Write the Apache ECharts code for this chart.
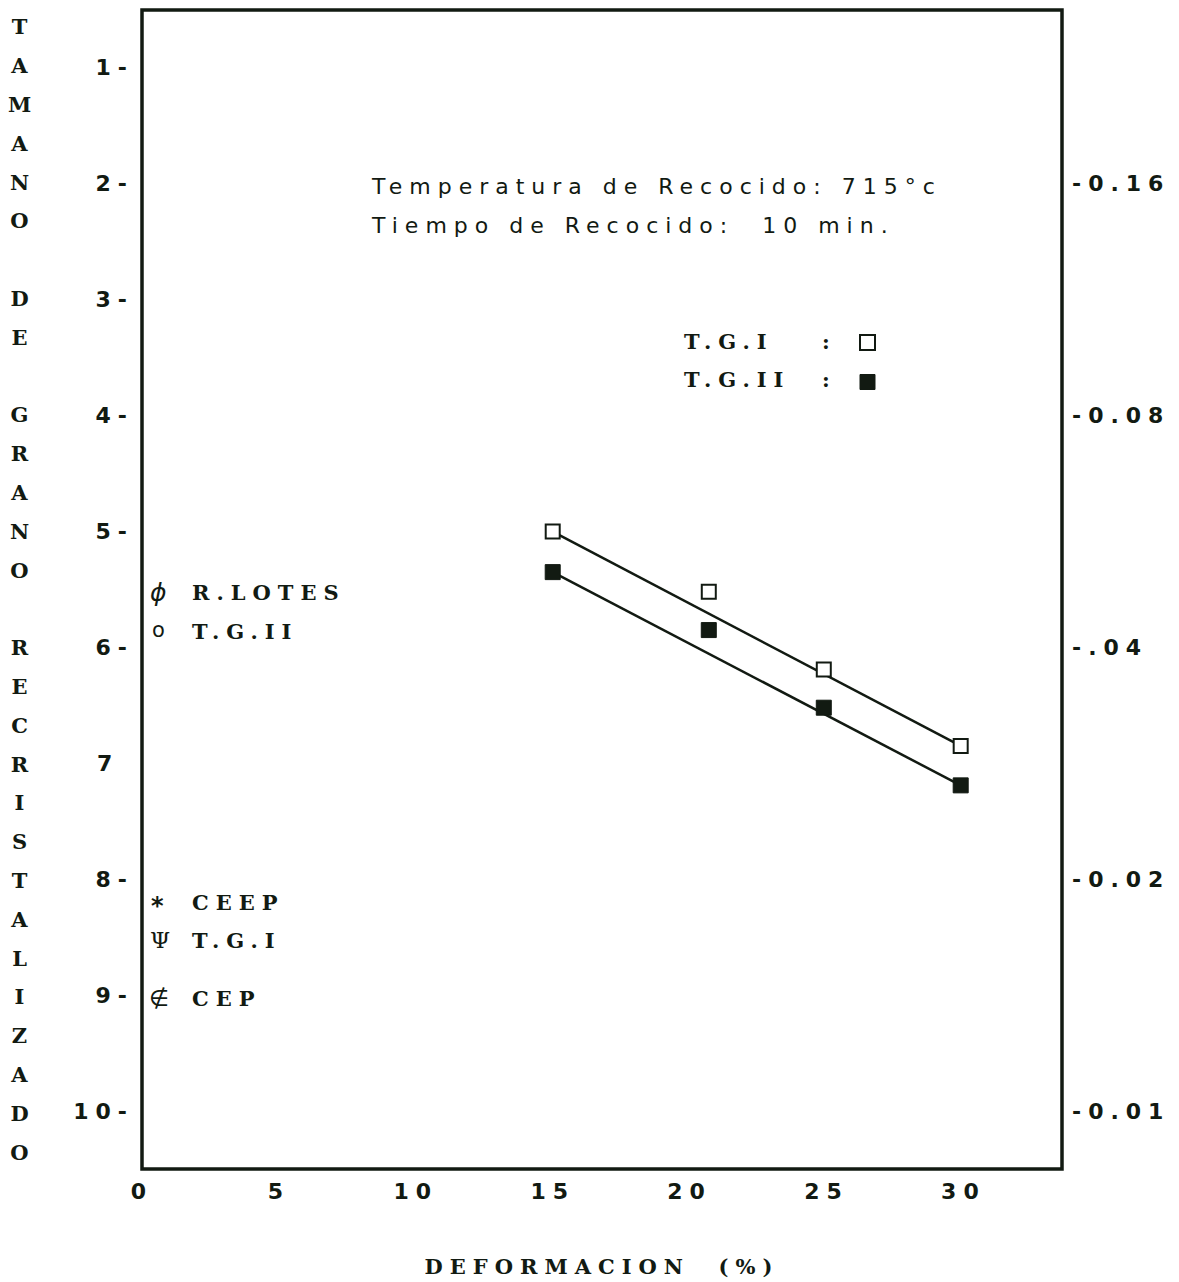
<!DOCTYPE html>
<html>
<head>
<meta charset="utf-8">
<script src="https://cdn.jsdelivr.net/npm/echarts@6/dist/echarts.min.js"></script>
<style>
  html, body { margin: 0; padding: 0; background: #ffffff; }
  #chart { width: 1179px; height: 1282px; }
  /* plotter-style wide lettering */
  #chart text { letter-spacing: 7px; white-space: pre; }
</style>
</head>
<body>
<div id="chart"></div>
<script>
// Deformation (%) of the measured samples
const deformation = [15, 20.7, 24.9, 29.9];
// Recrystallized grain size (ASTM number) for each treatment
const grainTGI = [5.0, 5.52, 6.19, 6.85];
const grainTGII = [5.35, 5.85, 6.52, 7.19];
// Fitted straight lines (end points)
const fitX = [15, 29.9];
const fitTGI = [5.0, 6.85];
const fitTGII = [5.35, 7.19];

// Tick values and labels
const xTicks = [0, 5, 10, 15, 20, 25, 30];
const leftTicks = [1, 2, 3, 4, 5, 6, 7, 8, 9, 10];
const leftTickLabels = ['1-', '2-', '3-', '4-', '5-', '6-', '7 ', '8-', '9-', '10-'];
const rightTicks = [2, 4, 6, 8, 10];
const rightTickLabels = ['-0.16', '-0.08', '-.04', '-0.02', '-0.01'];

const seriesNames = ['T.G.I', 'T.G.II'];
const yTitle = 'TAMANO DE GRANO RECRISTALIZADO';
const xTitle = 'DEFORMACION  (%)';
const titleLines = ['Temperatura de Recocido: 715°c', 'Tiempo de Recocido:  10 min.'];

const INK = '#121a12';
const SERIF = 'bold 21px "DejaVu Serif"';
const SANS_B = 'bold 24px "DejaVu Sans"';
const SANS = '22px "DejaVu Sans"';

const pairs = (xs, ys) => xs.map((x, i) => [x, ys[i]]);
const verticalName = yTitle.split(' ').map(w => w.split('').join('\n')).join('\n\n');

const chart = echarts.init(document.getElementById('chart'), null, { renderer: 'svg' });

const noteText = (x, y, text, font) => ({
  type: 'text', x, y,
  style: { text, font, fill: INK, verticalAlign: 'middle', align: 'left' }
});

const numLabel = { color: INK, fontFamily: 'DejaVu Sans', fontWeight: 'bold', fontSize: 22 };

chart.setOption({
  animation: false,
  backgroundColor: '#ffffff',
  grid: {
    left: 142, right: 117, top: 10, bottom: 110,
    show: true, borderColor: INK, borderWidth: 3.5, backgroundColor: 'transparent'
  },
  xAxis: {
    type: 'value', min: 0, max: 33.6,
    axisLine: { show: false },
    axisTick: { show: false },
    splitLine: { show: false },
    axisLabel: Object.assign({ customValues: xTicks, margin: 11 }, numLabel),
    name: xTitle, nameLocation: 'middle', nameGap: 87,
    nameTextStyle: { color: INK, fontFamily: 'DejaVu Serif', fontWeight: 'bold', fontSize: 21 }
  },
  yAxis: [
    {
      type: 'value', min: 0.5, max: 10.5, inverse: true, position: 'left',
      axisLine: { show: false },
      axisTick: { show: false },
      splitLine: { show: false },
      axisLabel: Object.assign({
        customValues: leftTicks, margin: 8,
        formatter: v => leftTickLabels[leftTicks.indexOf(v)] || ''
      }, numLabel),
      name: verticalName, nameLocation: 'middle', nameGap: 119, nameRotate: 0,
      nameTextStyle: {
        color: INK, fontFamily: 'DejaVu Serif', fontWeight: 'bold', fontSize: 21,
        lineHeight: 38.8, align: 'center', verticalAlign: 'middle'
      }
    },
    {
      type: 'value', min: 0.5, max: 10.5, inverse: true, position: 'right',
      axisLine: { show: false },
      axisTick: { show: false },
      splitLine: { show: false },
      axisLabel: Object.assign({
        customValues: rightTicks, margin: 10,
        formatter: v => rightTickLabels[rightTicks.indexOf(v)] || ''
      }, numLabel)
    }
  ],
  legend: {
    orient: 'vertical', left: 859, top: 334, padding: 0,
    itemWidth: 15, itemHeight: 15, itemGap: 23,
    icon: 'rect', formatter: () => '',
    selectedMode: false,
    data: [
      { name: seriesNames[0], itemStyle: { color: '#ffffff', borderColor: INK, borderWidth: 2 } },
      { name: seriesNames[1], itemStyle: { color: INK, borderColor: INK, borderWidth: 1 } }
    ]
  },
  series: [
    {
      name: 'fit-' + seriesNames[0], type: 'line', z: 1,
      data: pairs(fitX, fitTGI), symbol: 'none',
      lineStyle: { color: INK, width: 2.5 }
    },
    {
      name: 'fit-' + seriesNames[1], type: 'line', z: 1,
      data: pairs(fitX, fitTGII), symbol: 'none',
      lineStyle: { color: INK, width: 2.5 }
    },
    {
      name: seriesNames[0], type: 'scatter', z: 3,
      data: pairs(deformation, grainTGI),
      symbol: 'rect', symbolSize: 14,
      itemStyle: { color: '#ffffff', borderColor: INK, borderWidth: 2, opacity: 1 }
    },
    {
      name: seriesNames[1], type: 'scatter', z: 3,
      data: pairs(deformation, grainTGII),
      symbol: 'rect', symbolSize: 15,
      itemStyle: { color: INK, borderColor: INK, borderWidth: 1, opacity: 1 }
    }
  ],
  graphic: [
    noteText(372, 186, titleLines[0], SANS),
    noteText(372, 225, titleLines[1], SANS),
    noteText(684, 341, seriesNames[0], SERIF),
    noteText(822, 341, ':', SERIF),
    noteText(684, 379, seriesNames[1], SERIF),
    noteText(822, 379, ':', SERIF),
    noteText(150, 592, 'ϕ', 'italic 25px "DejaVu Sans"'),
    noteText(192, 592, 'R.LOTES', SERIF),
    noteText(152, 630, 'o', '21px "DejaVu Sans"'),
    noteText(192, 631, 'T.G.II', SERIF),
    noteText(151, 906, '*', SANS_B),
    noteText(192, 902, 'CEEP', SERIF),
    noteText(150, 940, 'Ψ', '23px "DejaVu Serif"'),
    noteText(149, 998, '∉', '23px "DejaVu Sans"'),
    noteText(192, 940, 'T.G.I', SERIF),
    noteText(192, 998, 'CEP', SERIF)
  ]
});
</script>
</body>
</html>
